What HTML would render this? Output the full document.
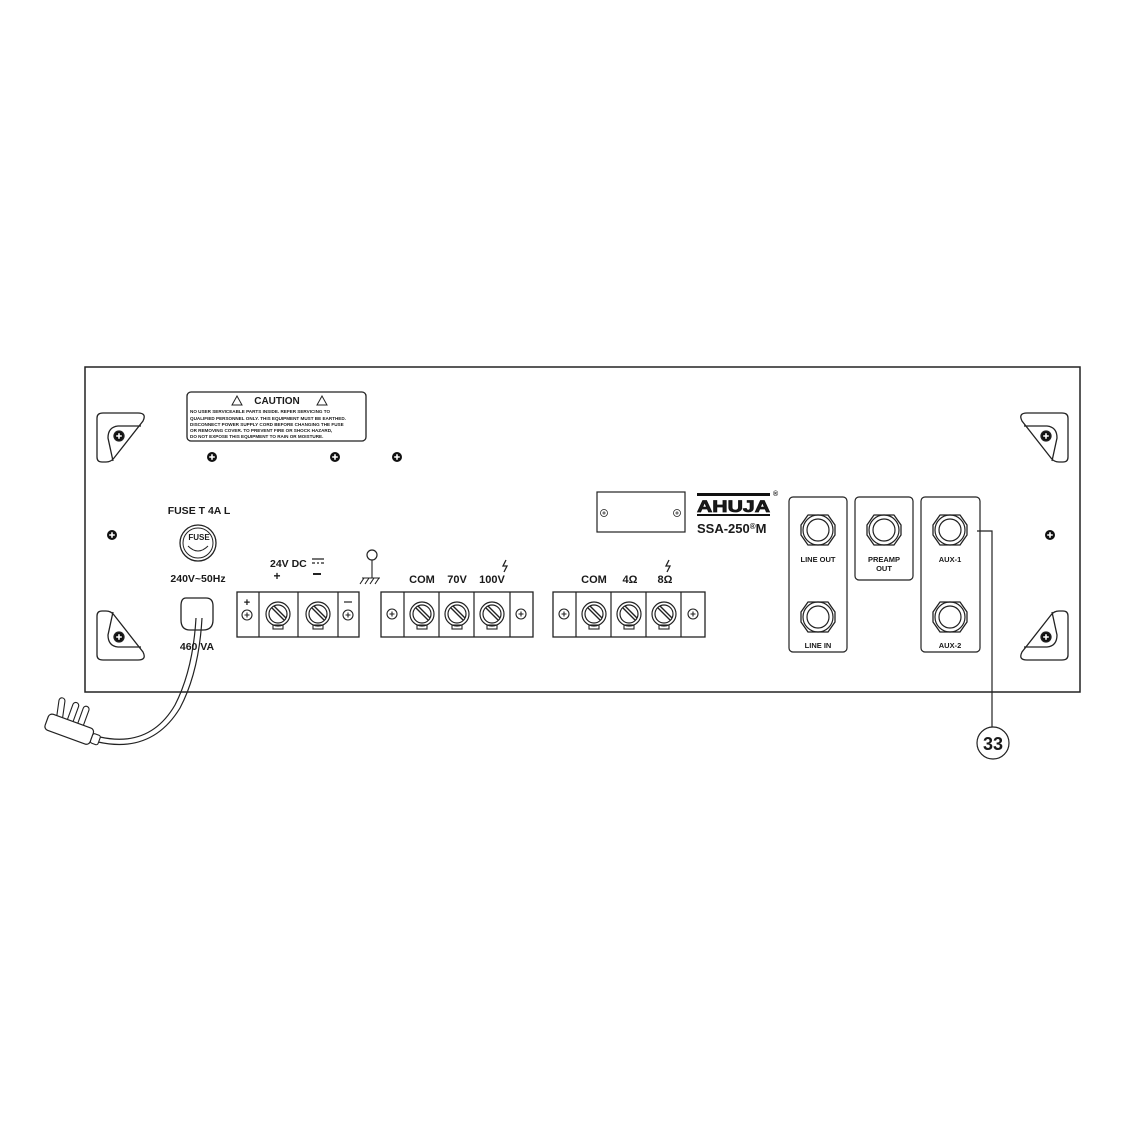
<!DOCTYPE html>
<html><head><meta charset="utf-8"><style>
html,body{margin:0;padding:0;background:#fff}
svg{display:block}
text{font-family:"Liberation Sans",sans-serif;font-weight:bold;fill:#1a1a1a}
</style></head><body>
<svg width="1125" height="1125" viewBox="0 0 1125 1125" xmlns="http://www.w3.org/2000/svg">
<defs>
<g id="scr"><circle r="5" fill="#111"/><path d="M-2.8 0H2.8M0 -2.8V2.8" stroke="#fff" stroke-width="1.6"/></g>
<g id="brk" fill="none" stroke="#222" stroke-width="1.3">
<path d="M103 413 H138 Q147 413 143 421 L114 458 Q111 462 106 462 H102 Q97 462 97 457 V418 Q97 413 103 413 Z"/>
<path d="M113 461 L108 438 Q108 427 118 426 L141 426"/>
<use href="#scr" x="119" y="436"/>
</g>
<g id="term"><circle r="12" fill="none" stroke="#222" stroke-width="1.2"/><circle r="9" fill="none" stroke="#222" stroke-width="1.2"/><path d="M-6 -6 L6 6 M-4 -8 L8 4" stroke="#222" stroke-width="1.4"/><rect x="-5" y="11" width="10" height="4" fill="none" stroke="#222" stroke-width="1.1"/></g>
<g id="pt"><circle r="5" fill="none" stroke="#222" stroke-width="1.1"/><path d="M-2.5 0H2.5M0 -2.5V2.5" stroke="#222" stroke-width="1.1"/></g>
<g id="jack"><polygon points="-17,-5 -10,-15 10,-15 17,-5 17,5 10,15 -10,15 -17,5" fill="none" stroke="#222" stroke-width="1.3" stroke-linejoin="round"/><circle r="15" fill="none" stroke="#222" stroke-width="1.2"/><circle r="11" fill="none" stroke="#222" stroke-width="1.2"/></g>
<rect id="pin" x="-3" y="-20" width="6" height="22" rx="3" fill="#fff" stroke="#222" stroke-width="1.1"/>
</defs>
<rect x="85" y="367" width="995" height="325" fill="none" stroke="#222" stroke-width="1.5"/>
<use href="#brk"/>
<use href="#brk" transform="translate(0,1073) scale(1,-1)"/>
<use href="#brk" transform="translate(1165,0) scale(-1,1)"/>
<use href="#brk" transform="translate(1165,1073) scale(-1,-1)"/>
<use href="#scr" x="212" y="457"/><use href="#scr" x="335" y="457"/><use href="#scr" x="397" y="457"/>
<use href="#scr" x="112" y="535"/><use href="#scr" x="1050" y="535"/>
<!-- caution -->
<rect x="187" y="392" width="179" height="49" rx="4" fill="none" stroke="#222" stroke-width="1.3"/>
<text x="277" y="404" font-size="10" text-anchor="middle">CAUTION</text>
<path d="M232 405 L237 396 L242 405 Z M317 405 L322 396 L327 405 Z" fill="none" stroke="#222"/>
<g font-size="4.6"><text x="190" y="413">NO USER SERVICEABLE PARTS INSIDE. REFER SERVICING TO</text>
<text x="190" y="420">QUALIFIED PERSONNEL ONLY. THIS EQUIPMENT MUST BE EARTHED.</text>
<text x="190" y="426">DISCONNECT POWER SUPPLY CORD BEFORE CHANGING THE FUSE</text>
<text x="190" y="432">OR REMOVING COVER. TO PREVENT FIRE OR SHOCK HAZARD,</text>
<text x="190" y="438">DO NOT EXPOSE THIS EQUIPMENT TO RAIN OR MOISTURE.</text></g>
<!-- fuse -->
<text x="199" y="514" font-size="10.5" text-anchor="middle">FUSE T 4A L</text>
<circle cx="198" cy="543" r="18" fill="none" stroke="#222" stroke-width="1.3"/>
<circle cx="198" cy="543" r="15" fill="none" stroke="#222" stroke-width="1"/>
<text x="199" y="540" font-size="8" text-anchor="middle">FUSE</text>
<path d="M188 546 Q198 556 208 546" fill="none" stroke="#222"/>
<text x="198" y="582" font-size="10.5" text-anchor="middle">240V~50Hz</text>
<path d="M186 598 H206 Q213 598 213 606 V620 Q213 630 203 630 H190 Q181 630 181 620 V606 Q181 598 186 598 Z" fill="none" stroke="#222" stroke-width="1.3"/>
<!-- cord -->
<path d="M196 618 Q193 670 175 705 Q150 748 100 737" fill="none" stroke="#222" stroke-width="1.2"/>
<path d="M202 618 Q199 672 180 708 Q152 754 98 742" fill="none" stroke="#222" stroke-width="1.2"/>
<text x="197" y="650" font-size="10.5" text-anchor="middle">460 VA</text>
<g transform="translate(70,730) rotate(20)">
<use href="#pin" x="-14" y="-8" transform="rotate(-12 -14 -8)"/>
<use href="#pin" x="-3" y="-8"/>
<use href="#pin" x="8" y="-8"/>
<rect x="-25" y="-9" width="48" height="17" rx="4" fill="#fff" stroke="#222" stroke-width="1.2"/>
<rect x="23" y="-5" width="8" height="10" rx="2" fill="#fff" stroke="#222" stroke-width="1.1"/>
</g>
<!-- 24V DC -->
<text x="270" y="567" font-size="10.5">24V DC</text>
<path d="M312 559 H324 M312 563 H315 M317 563 H319 M321 563 H324" stroke="#222" stroke-width="1.3"/>
<text x="277" y="580" font-size="12" text-anchor="middle">+</text>
<path d="M313 574 H321" stroke="#222" stroke-width="2"/>
<rect x="237" y="592" width="122" height="45" fill="none" stroke="#222" stroke-width="1.3"/>
<path d="M259 592V637M298 592V637M338 592V637" stroke="#222" stroke-width="1.2"/>
<text x="247" y="606" font-size="11" text-anchor="middle">+</text>
<path d="M344 602 H352" stroke="#222" stroke-width="1.2"/>
<use href="#pt" x="247" y="615"/><use href="#pt" x="348" y="615"/>
<use href="#term" x="278" y="614"/><use href="#term" x="318" y="614"/>
<!-- ground -->
<circle cx="372" cy="555" r="5" fill="none" stroke="#222" stroke-width="1.2"/>
<path d="M372 560 V578 M362 578 H380 M364 578 L360 584 M369 578 L365 584 M374 578 L370 584 M379 578 L375 584" stroke="#222" stroke-width="1.1" fill="none"/>
<!-- block 2 -->
<text x="422" y="583" font-size="11" text-anchor="middle">COM</text>
<text x="457" y="583" font-size="11" text-anchor="middle">70V</text>
<text x="492" y="583" font-size="11" text-anchor="middle">100V</text>
<path d="M506 560 L503 566 L507 566 L504 572" fill="none" stroke="#222" stroke-width="1.3"/>
<rect x="381" y="592" width="152" height="45" fill="none" stroke="#222" stroke-width="1.3"/>
<path d="M404 592V637M439 592V637M474 592V637M510 592V637" stroke="#222" stroke-width="1.2"/>
<use href="#pt" x="392" y="614"/><use href="#pt" x="521" y="614"/>
<use href="#term" x="422" y="614"/><use href="#term" x="457" y="614"/><use href="#term" x="492" y="614"/>
<!-- block 3 -->
<text x="594" y="583" font-size="11" text-anchor="middle">COM</text>
<text x="630" y="583" font-size="11" text-anchor="middle">4Ω</text>
<text x="665" y="583" font-size="11" text-anchor="middle">8Ω</text>
<path d="M669 560 L666 566 L670 566 L667 572" fill="none" stroke="#222" stroke-width="1.3"/>
<rect x="553" y="592" width="152" height="45" fill="none" stroke="#222" stroke-width="1.3"/>
<path d="M576 592V637M611 592V637M646 592V637M681 592V637" stroke="#222" stroke-width="1.2"/>
<use href="#pt" x="564" y="614"/><use href="#pt" x="693" y="614"/>
<use href="#term" x="594" y="614"/><use href="#term" x="629" y="614"/><use href="#term" x="664" y="614"/>
<!-- plate & logo -->
<rect x="597" y="492" width="88" height="40" fill="none" stroke="#222" stroke-width="1.2"/>
<use href="#pt" transform="translate(604 513) scale(0.7)"/>
<use href="#pt" transform="translate(677 513) scale(0.7)"/>
<rect x="697" y="493" width="73" height="3" fill="#111"/>
<text x="697" y="512" font-size="17" font-weight="900" textLength="73" lengthAdjust="spacingAndGlyphs" stroke="#111" stroke-width="0.8">AHUJA</text>
<rect x="697" y="514" width="73" height="2" fill="#111"/>
<text x="773" y="496" font-size="7">®</text>
<text x="697" y="533" font-size="13">SSA-250<tspan font-size="8" dy="-4">®</tspan><tspan dy="4">M</tspan></text>
<!-- jacks -->
<rect x="789" y="497" width="58" height="155" rx="4" fill="none" stroke="#222" stroke-width="1.2"/>
<rect x="855" y="497" width="58" height="83" rx="4" fill="none" stroke="#222" stroke-width="1.2"/>
<rect x="921" y="497" width="59" height="155" rx="4" fill="none" stroke="#222" stroke-width="1.2"/>
<use href="#jack" x="818" y="530"/><use href="#jack" x="818" y="617"/>
<use href="#jack" x="884" y="530"/>
<use href="#jack" x="950" y="530"/><use href="#jack" x="950" y="617"/>
<g font-size="7.5" text-anchor="middle">
<text x="818" y="562">LINE OUT</text><text x="818" y="648">LINE IN</text>
<text x="884" y="562">PREAMP</text><text x="884" y="571">OUT</text>
<text x="950" y="562">AUX-1</text><text x="950" y="648">AUX-2</text></g>
<!-- callout -->
<path d="M977 531 H992 V727" fill="none" stroke="#222" stroke-width="1.2"/>
<circle cx="993" cy="743" r="16" fill="#fff" stroke="#222" stroke-width="1.2"/>
<text x="993" y="750" font-size="18" font-weight="normal" text-anchor="middle">33</text>
</svg>
</body></html>
